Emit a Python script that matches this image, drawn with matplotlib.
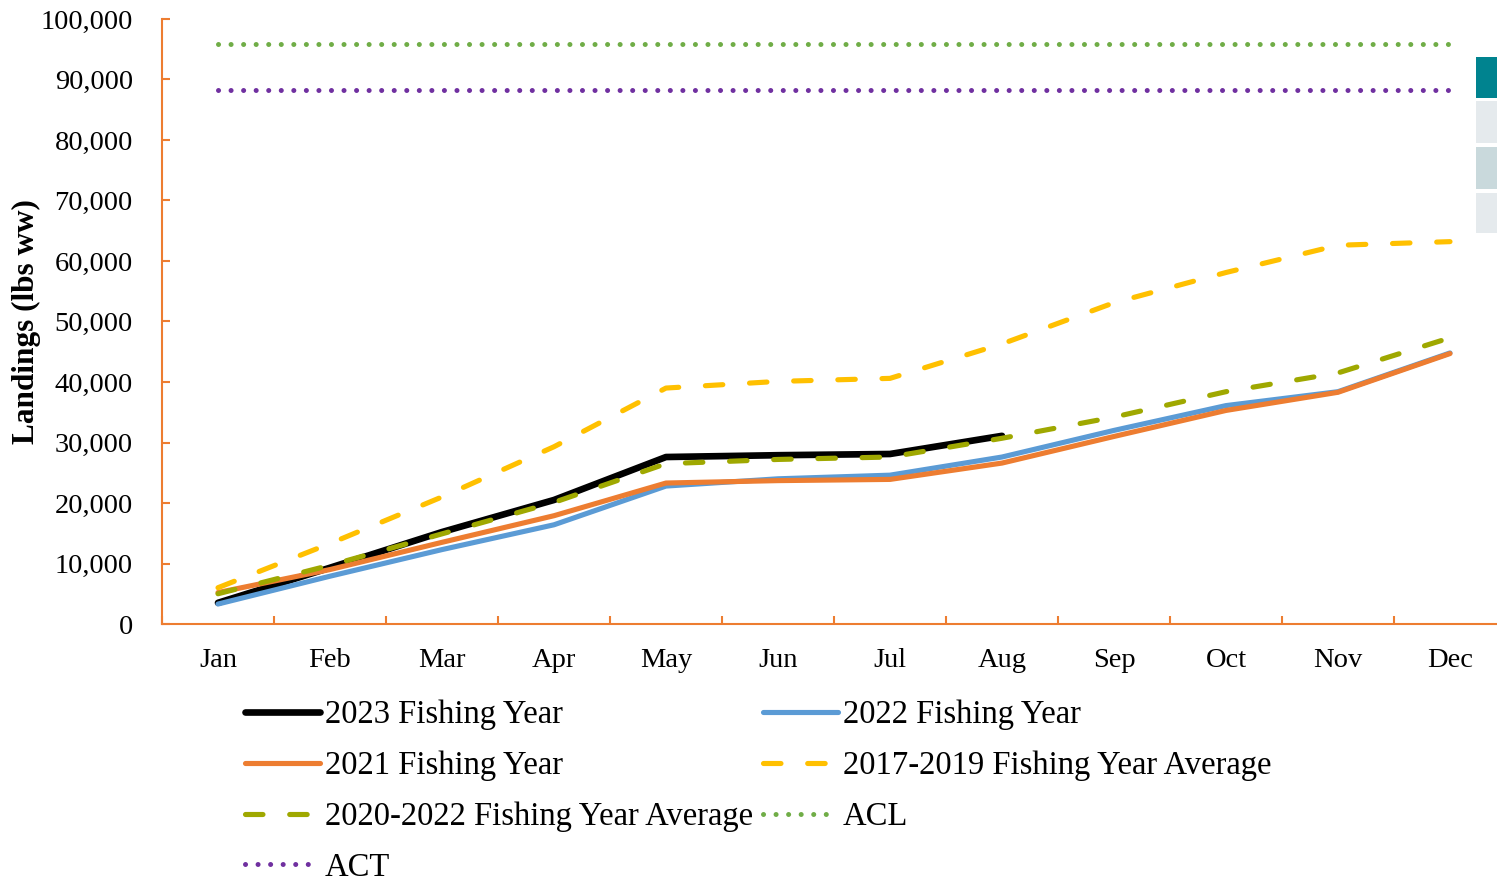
#!/usr/bin/env python3
"""Cumulative landings by month versus ACL / ACT."""

import matplotlib

matplotlib.use("Agg")
import matplotlib.pyplot as plt
from matplotlib.patches import Rectangle
from matplotlib.ticker import FuncFormatter, FixedLocator

months = ["Jan", "Feb", "Mar", "Apr", "May", "Jun",
          "Jul", "Aug", "Sep", "Oct", "Nov", "Dec"]

fy2023 = [3500, 9300, 15200, 20500, 27600, 27900, 28100, 31100]
fy2022 = [3300, 7900, 12300, 16400, 22800, 24000, 24600, 27600, 32000, 36100, 38400, 44800]
fy2021 = [5200, 9000, 13500, 17900, 23300, 23700, 23900, 26600, 31000, 35300, 38300, 44700]
avg_2017_2019 = [6000, 13300, 21000, 29300, 39000, 40100, 40600, 46300, 53100, 58100, 62600, 63200]
avg_2020_2022 = [5000, 9700, 14900, 20100, 26500, 27200, 27600, 30700, 34200, 38400, 41500, 47300]
acl = [95900] * 12
act = [88300] * 12

plt.rcParams["font.family"] = ["Liberation Serif", "DejaVu Serif"]

W, H = 1497, 881
fig = plt.figure(figsize=(W / 100, H / 100), dpi=100)
ax = fig.add_axes([162 / W, 257 / H, 1344 / W, 605 / H])

x = list(range(len(months)))
ax.plot(x[:len(fy2023)], fy2023, color="black", lw=4.8,
        solid_capstyle="round", label="2023 Fishing Year")
ax.plot(x, fy2022, color="#5B9BD5", lw=3.7, solid_capstyle="round",
        label="2022 Fishing Year")
ax.plot(x, fy2021, color="#ED7D31", lw=3.7, solid_capstyle="round",
        label="2021 Fishing Year")
ax.plot(x, avg_2017_2019, color="#FFC000", lw=3.7, dash_capstyle="round",
        linestyle=(0, (3.4, 5.2)), label="2017-2019 Fishing Year Average")
ax.plot(x, avg_2020_2022, color="#9FA800", lw=3.7, dash_capstyle="round",
        linestyle=(0, (3.4, 5.2)), label="2020-2022 Fishing Year Average")
ax.plot(x, acl, color="#70AD47", lw=3.6, dash_capstyle="round",
        linestyle=(0, (0.01, 2.5)), label="ACL")
ax.plot(x, act, color="#7030A0", lw=3.6, dash_capstyle="round",
        linestyle=(0, (0.01, 2.5)), label="ACT")

ax.set_xlim(-0.5, 11.5)
ax.set_ylim(0, 100000)
ax.set_xticks(x)
ax.set_xticklabels(months)
ax.xaxis.set_minor_locator(FixedLocator([i + 0.5 for i in range(-1, 12)]))
ax.set_yticks(range(0, 100001, 10000))
ax.yaxis.set_major_formatter(FuncFormatter(lambda v, _: f"{int(v):,}"))

orange = "#ED7D31"
for side in ("top", "right"):
    ax.spines[side].set_visible(False)
for side in ("left", "bottom"):
    ax.spines[side].set_color(orange)
    ax.spines[side].set_linewidth(1.5)
ax.tick_params(axis="x", which="major", length=0, labelsize=20.5, pad=17)
ax.tick_params(axis="x", which="minor", direction="in", length=6,
               width=1.5, color=orange)
ax.tick_params(axis="y", direction="in", length=6, width=1.5, color=orange,
               labelsize=20.5, pad=21)

fig.text(26 / W, 1 - 322 / H, "Landings (lbs ww)", rotation=90,
         ha="center", va="center", fontsize=22.5, fontweight="bold")

handles, labels = ax.get_legend_handles_labels()
order = [0, 2, 4, 6, 1, 3, 5]
leg = fig.legend([handles[i] for i in order], [labels[i] for i in order],
                 ncol=2, loc="upper left", bbox_to_anchor=(245 / W, 1 - 700 / H),
                 frameon=False, fontsize=23.5, handlelength=2.3,
                 handletextpad=0.15, columnspacing=0.3, labelspacing=0.62,
                 borderpad=0, borderaxespad=0)

# clipped boxes on the right edge
for (y0, y1, c) in [(57, 98, "#00838F"), (101, 143, "#E5EAED"),
                    (147, 189, "#C9D9DC"), (193, 233, "#E5EAED")]:
    fig.patches.append(Rectangle((1476 / W, 1 - y1 / H), 21 / W, (y1 - y0) / H,
                                 transform=fig.transFigure, color=c, lw=0))

fig.savefig("out.png", dpi=100)
